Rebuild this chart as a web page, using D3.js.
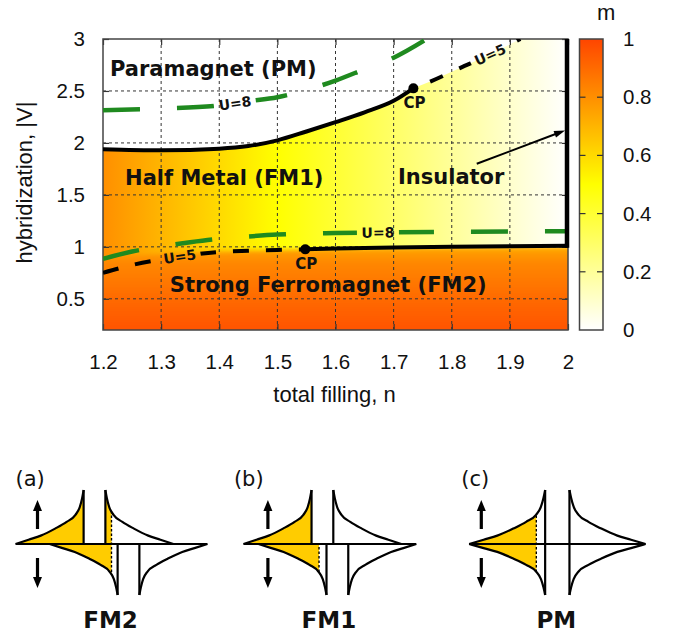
<!DOCTYPE html>
<html lang="en">
<head>
<meta charset="utf-8">
<title>Phase diagram m(n, |V|)</title>
<script src="https://d3js.org/d3.v7.min.js"></script>
<style>
  body { margin: 0; background: #fff; }
  text { font-family: "Liberation Sans", Arial, sans-serif; fill: #111; }
  text.bold { font-family: "DejaVu Sans", sans-serif; font-weight: bold; }
</style>
</head>
<body>
<svg id="chart" width="682" height="632"></svg>
<script>
// ticks
var xTicks = [1.2, 1.3, 1.4, 1.5, 1.6, 1.7, 1.8, 1.9, 2];
var yTicks = [0.5, 1, 1.5, 2, 2.5, 3];
var cbTicks = [0, 0.2, 0.4, 0.6, 0.8, 1];

// palette for m
var mStops = [0, 0.5, 1];
var mColors = ["#ffffff", "#ffff00", "#ff4500"];

// m across the half metal (FM1), read by filling
var fm1N = [1.2, 1.3, 1.4, 1.5, 1.6, 1.7, 1.8, 1.9, 2.0];
var fm1M = [0.8, 0.7, 0.6, 0.5, 0.4, 0.3, 0.2, 0.1, 0.0];

// m down the strong ferromagnet (FM2), read by |V|
var fm2GV = [1.01, 0.96, 0.85, 0.5, 0.2];
var fm2GM = [0.66, 0.76, 0.82, 0.9, 0.96];

// PM / FM1 boundary (solid) up to the upper CP
var pmN = [1.2, 1.3, 1.4, 1.45, 1.5, 1.55, 1.6, 1.65, 1.7, 1.734];
var pmV = [1.94, 1.93, 1.945, 1.97, 2.025, 2.11, 2.2, 2.295, 2.405, 2.525];
// U=5 continuation above the upper CP (dashed)
var u5uN = [1.734, 1.763, 1.814, 1.866, 1.918];
var u5uV = [2.525, 2.59, 2.72, 2.85, 3.0];
// FM1 / FM2 boundary (solid) from the lower CP
var fm2bN = [1.548, 1.6, 1.7, 1.8, 1.9, 2.0];
var fm2bV = [0.976, 0.985, 0.995, 1.0, 1.005, 1.01];
// U=5 below the lower CP (dashed)
var u5lN = [1.2, 1.25, 1.3, 1.35, 1.4, 1.45, 1.5, 1.548];
var u5lV = [0.75, 0.825, 0.88, 0.922, 0.95, 0.962, 0.97, 0.976];
// crossover FM1 -> FM2 left of the lower CP
var fm2LeftN = [1.2, 1.3, 1.4, 1.5, 1.548];
var fm2LeftV = [0.9, 0.935, 0.955, 0.97, 0.976];
// U=8 lines (green)
var u8uN = [1.2, 1.3, 1.4, 1.45, 1.5, 1.55, 1.6, 1.65, 1.7, 1.757];
var u8uV = [2.315, 2.33, 2.36, 2.40, 2.44, 2.51, 2.60, 2.71, 2.82, 3.0];
var u8lN = [1.2, 1.25, 1.3, 1.35, 1.4, 1.45, 1.5, 1.6, 1.7, 1.8, 1.9, 1.995];
var u8lV = [0.885, 0.955, 1.005, 1.045, 1.078, 1.10, 1.118, 1.133, 1.14, 1.145, 1.148, 1.15];
// critical points
var cpN = [1.734, 1.548];
var cpV = [2.525, 0.976];

// region labels
var regText = ["Paramagnet (PM)", "Half Metal (FM1)", "Insulator", "Strong Ferromagnet (FM2)"];
var regN = [1.212, 1.238, 1.7075, 1.315];
var regV = [2.644, 1.595, 1.605, 0.57];
var regFill = ["#000", "#000", "#000", "#fff"];

// U labels sit on their curves at these fillings
var uText = ["U=8", "U=8", "U=5", "U=5"];
var uAt = [1.427, 1.673, 1.332, 1.866];

// density of states sketches
var dosLetter = ["(a)", "(b)", "(c)"];
var dosName = ["FM2", "FM1", "PM"];
var dosSplit = [0.5, 0.22, 0];       // spin splitting, in band widths
var dosFermi = [0, -0.16, -0.276];   // Fermi level, from the mid gap
var dosGap = 0.32;
var dosT = [0, 0.19, 0.37, 0.58, 0.75, 0.88, 0.945, 0.978, 1];
var dosH = [0, 0.08, 0.155, 0.285, 0.41, 0.54, 0.69, 0.85, 1];

var W = 682, H = 632;
var svg = d3.select("#chart");
var defs = svg.append("defs");

var x = d3.scaleLinear().domain([1.2, 2]).range([103, 568]);
var y = d3.scaleLinear().domain([0.2, 3]).range([330, 39]);
var color = d3.scaleLinear().domain(mStops).range(mColors);
var cb = d3.scaleLinear().domain([0, 1]).range([330, 39]);

function pts(ns, vs) { return ns.map(function(n, i) { return [n, vs[i]]; }); }
var curve = d3.line().x(function(d) { return x(d[0]); }).y(function(d) { return y(d[1]); }).curve(d3.curveMonotoneX);
var poly = d3.line().x(function(d) { return x(d[0]); }).y(function(d) { return y(d[1]); });

function onCurve(ns, vs, n) {
  var i = Math.max(1, Math.min(ns.length - 1, d3.bisectLeft(ns, n)));
  var f = (n - ns[i - 1]) / (ns[i] - ns[i - 1]);
  var v = vs[i - 1] + f * (vs[i] - vs[i - 1]);
  var a = Math.atan2(y(vs[i]) - y(vs[i - 1]), x(ns[i]) - x(ns[i - 1])) * 180 / Math.PI;
  return [x(n), y(v), a];
}

function arrow(g, x1, y1, x2, y2, sw, len, hw) {
  var a = Math.atan2(y2 - y1, x2 - x1), c = Math.cos(a), s = Math.sin(a);
  g.append("line").attr("x1", x1).attr("y1", y1)
    .attr("x2", x2 - c * len * 0.6).attr("y2", y2 - s * len * 0.6)
    .attr("stroke", "#000").attr("stroke-width", sw);
  var bx = x2 - c * len, by = y2 - s * len;
  g.append("path")
    .attr("d", "M" + x2 + "," + y2 + "L" + (bx - s * hw) + "," + (by + c * hw) +
               "L" + (bx + s * hw) + "," + (by - c * hw) + "Z")
    .attr("fill", "#000");
}

// ---------- gradients, clips, filters ----------
var g1 = defs.append("linearGradient").attr("id", "gFM1").attr("gradientUnits", "userSpaceOnUse")
  .attr("x1", x(1.2)).attr("x2", x(2)).attr("y1", 0).attr("y2", 0);
fm1N.forEach(function(n, i) {
  g1.append("stop").attr("offset", (x(n) - x(1.2)) / (x(2) - x(1.2))).attr("stop-color", color(fm1M[i]));
});
var g2 = defs.append("linearGradient").attr("id", "gFM2").attr("gradientUnits", "userSpaceOnUse")
  .attr("x1", 0).attr("x2", 0).attr("y1", y(fm2GV[0])).attr("y2", y(0.2));
fm2GV.forEach(function(v, i) {
  g2.append("stop").attr("offset", (y(v) - y(fm2GV[0])) / (y(0.2) - y(fm2GV[0]))).attr("stop-color", color(fm2GM[i]));
});
var gcb = defs.append("linearGradient").attr("id", "gCB")
  .attr("x1", 0).attr("x2", 0).attr("y1", 1).attr("y2", 0);
d3.range(0, 1.0001, 0.05).forEach(function(m) {
  gcb.append("stop").attr("offset", m).attr("stop-color", color(m));
});

defs.append("clipPath").attr("id", "plotClip").append("rect")
  .attr("x", x(1.2)).attr("y", y(3)).attr("width", x(2) - x(1.2)).attr("height", y(0.2) - y(3));
defs.append("clipPath").attr("id", "fm2Clip").append("path")
  .attr("d", poly([[1.2, 0.2], [2, 0.2]].concat(pts(fm2bN, fm2bV).reverse(), [[1.548, 1.3], [1.2, 1.3]])) + "Z");
defs.append("filter").attr("id", "soft").attr("x", "-5%").attr("y", "-20%").attr("width", "110%").attr("height", "140%")
  .append("feGaussianBlur").attr("stdDeviation", 2.2);

// ---------- heat map regions ----------
svg.append("rect").attr("x", x(1.2)).attr("y", y(3)).attr("width", x(2) - x(1.2)).attr("height", y(0.2) - y(3)).attr("fill", "#fff");
var map = svg.append("g").attr("clip-path", "url(#plotClip)");
var fm1Poly = pts(pmN, pmV).concat(pts(u5uN, u5uV).slice(1), [[2.05, 3], [2.05, 0.1], [1.15, 0.1], [1.15, 1.94]]);
map.append("path").attr("d", poly(fm1Poly) + "Z").attr("fill", "url(#gFM1)");
var fm2Poly = [[1.15, 0.1], [2.05, 0.1], [2.05, 1.01]].concat(
  pts(fm2bN, fm2bV).reverse(), pts(fm2LeftN, fm2LeftV).reverse().slice(1), [[1.15, 0.88]]);
map.append("g").attr("clip-path", "url(#fm2Clip)")
  .append("path").attr("d", poly(fm2Poly) + "Z").attr("fill", "url(#gFM2)").attr("filter", "url(#soft)");

// ---------- grid, border, axes ----------
var grid = svg.append("g").attr("stroke", "#333").attr("stroke-width", 1).attr("stroke-dasharray", "3,3");
grid.selectAll(".gx").data(xTicks.filter(function(d) { return d > 1.2 && d < 2; })).enter().append("line")
  .attr("x1", x).attr("x2", x).attr("y1", y(0.2)).attr("y2", y(3));
grid.selectAll(".gy").data(yTicks.filter(function(d) { return d < 3; })).enter().append("line")
  .attr("x1", x(1.2)).attr("x2", x(2)).attr("y1", y).attr("y2", y);

function styleAxis(g, size) {
  g.attr("font-size", null).attr("font-family", null);
  g.select(".domain").remove();
  g.selectAll(".tick line").attr("stroke", "#333").attr("stroke-width", 1.2);
  g.selectAll(".tick text").style("font-size", size + "px").attr("fill", "#111");
}
svg.append("g").attr("transform", "translate(0," + y(0.2) + ")")
  .call(d3.axisBottom(x).tickValues(xTicks).tickFormat(d3.format("")).tickSize(-6).tickPadding(24))
  .call(styleAxis, 20.5);
svg.append("g").attr("transform", "translate(" + x(1.2) + ",0)")
  .call(d3.axisLeft(y).tickValues(yTicks).tickFormat(d3.format("")).tickSize(-6).tickPadding(18))
  .call(styleAxis, 20.5);
svg.append("g").attr("transform", "translate(0," + y(3) + ")")
  .call(d3.axisTop(x).tickValues(xTicks).tickFormat("").tickSize(-6)).call(styleAxis, 1);
svg.append("g").attr("transform", "translate(" + x(2) + ",0)")
  .call(d3.axisRight(y).tickValues(yTicks).tickFormat("").tickSize(-6)).call(styleAxis, 1);

svg.append("rect").attr("x", x(1.2)).attr("y", y(3)).attr("width", x(2) - x(1.2)).attr("height", y(0.2) - y(3))
  .attr("fill", "none").attr("stroke", "#444").attr("stroke-width", 1.5);

svg.append("text").attr("x", (x(1.2) + x(2)) / 2 - 1).attr("y", 402).attr("text-anchor", "middle")
  .style("font-size", "22px").text("total filling, n");
svg.append("text").attr("transform", "translate(32," + ((y(0.2) + y(3)) / 2 - 2) + ") rotate(-90)")
  .attr("text-anchor", "middle").style("font-size", "22px").text("hybridization, |V|");

// ---------- phase boundaries ----------
var uPos = [[u8uN, u8uV], [u8lN, u8lV], [u5lN, u5lV], [u5uN, u5uV]].map(function(c, i) {
  return onCurve(c[0], c[1], uAt[i]);
});
var mask = defs.append("mask").attr("id", "uMask").attr("maskUnits", "userSpaceOnUse")
  .attr("x", 0).attr("y", 0).attr("width", W).attr("height", H);
mask.append("rect").attr("width", W).attr("height", H).attr("fill", "#fff");
uPos.forEach(function(p) {
  mask.append("rect").attr("x", -21).attr("y", -9).attr("width", 42).attr("height", 18).attr("fill", "#000")
    .attr("transform", "translate(" + p[0] + "," + p[1] + ") rotate(" + p[2] + ")");
});

var lines = svg.append("g").attr("clip-path", "url(#plotClip)");
var dashed = lines.append("g").attr("mask", "url(#uMask)").attr("fill", "none");
dashed.append("path").attr("d", curve(pts(u8uN, u8uV))).attr("stroke", "#1f8a1f").attr("stroke-width", 4.5).attr("stroke-dasharray", "37,37");
dashed.append("path").attr("d", curve(pts(u8lN, u8lV))).attr("stroke", "#1f8a1f").attr("stroke-width", 4.5).attr("stroke-dasharray", "37,37");
dashed.append("path").attr("d", curve(pts(u5lN, u5lV))).attr("stroke", "#000").attr("stroke-width", 4).attr("stroke-dasharray", "16,17");
dashed.append("path").attr("d", curve(pts(u5uN, u5uV))).attr("stroke", "#000").attr("stroke-width", 4)
  .attr("stroke-dasharray", "14,18").attr("stroke-dashoffset", 14);

lines.append("path").attr("d", curve(pts(pmN, pmV))).attr("fill", "none").attr("stroke", "#000").attr("stroke-width", 4);
lines.append("path").attr("d", curve(pts(fm2bN, fm2bV))).attr("fill", "none").attr("stroke", "#000").attr("stroke-width", 4);
svg.append("line").attr("x1", x(2) - 1).attr("x2", x(2) - 1).attr("y1", y(3)).attr("y2", y(fm2bV[fm2bV.length - 1]) + 2)
  .attr("stroke", "#000").attr("stroke-width", 4.5);

svg.selectAll(".cp").data(cpN).enter().append("circle")
  .attr("cx", function(d) { return x(d); }).attr("cy", function(d, i) { return y(cpV[i]); })
  .attr("r", 5).attr("fill", "#000");
svg.selectAll(".cpl").data(cpN).enter().append("text").attr("class", "bold")
  .attr("x", function(d) { return x(d) + 1; }).attr("y", function(d, i) { return y(cpV[i]) + 20; })
  .attr("text-anchor", "middle").style("font-size", "15px").attr("fill", "#000").text("CP");

uPos.forEach(function(p, i) {
  svg.append("text").attr("class", "bold")
    .attr("transform", "translate(" + p[0] + "," + p[1] + ") rotate(" + p[2] + ")")
    .attr("text-anchor", "middle").attr("dy", "0.36em").style("font-size", "14px").attr("fill", "#000")
    .text(uText[i]);
});

regText.forEach(function(t, i) {
  svg.append("text").attr("class", "bold").attr("x", x(regN[i])).attr("y", y(regV[i]))
    .style("font-size", "21px").attr("fill", regFill[i]).text(t);
});
arrow(svg, x(1.843), y(1.80), x(1.995), y(2.12), 2, 11, 3.5);

// ---------- colour bar ----------
var cbx = 579.5, cbw = 23.5;
svg.append("rect").attr("x", cbx).attr("y", cb(1)).attr("width", cbw).attr("height", cb(0) - cb(1))
  .attr("fill", "url(#gCB)").attr("stroke", "#444").attr("stroke-width", 1.5);
var cbIn = cbTicks.filter(function(d) { return d > 0 && d < 1; });
svg.selectAll(".cbt1").data(cbIn).enter().append("line")
  .attr("x1", cbx).attr("x2", cbx + 6).attr("y1", cb).attr("y2", cb).attr("stroke", "#333").attr("stroke-width", 1.2);
svg.selectAll(".cbt2").data(cbIn).enter().append("line")
  .attr("x1", cbx + cbw - 6).attr("x2", cbx + cbw).attr("y1", cb).attr("y2", cb).attr("stroke", "#333").attr("stroke-width", 1.2);
svg.append("g").attr("transform", "translate(" + (cbx + cbw) + ",0)")
  .call(d3.axisRight(cb).tickValues(cbTicks).tickFormat(d3.format("")).tickSize(0).tickPadding(20))
  .call(styleAxis, 20.5);
svg.append("text").attr("x", cbx + cbw / 2 + 15).attr("y", 20).attr("text-anchor", "middle")
  .style("font-size", "22px").text("m");

// ---------- DOS sketches ----------
var dosY = 544;
var panelCx = [111.5, 329.9, 557.3];
var panelPx = [68, 68, 76];
var arrowOff = [74, 62, 76];
var spinH = [54, 51];

dosLetter.forEach(function(letter, i) {
  var ex = d3.scaleLinear().domain([0, 1]).range([panelCx[i], panelCx[i] + panelPx[i]]);
  var g = svg.append("g");
  var bands = [];
  [-1, 1].forEach(function(dir, k) {
    var shift = dir * dosSplit[i] / 2;
    var lo = shift - dosGap / 2, hi = shift + dosGap / 2;
    [[lo - 1, lo], [hi + 1, hi]].forEach(function(b) {
      var p = dosT.map(function(t, j) { return [b[0] + t * (b[1] - b[0]), dosH[j]]; });
      p.sort(function(a, c) { return a[0] - c[0]; });
      bands.push({ p: p, dir: dir, h: spinH[k], edge: b[1], outer: b[0] });
    });
  });
  function area(b) {
    return d3.area().x(function(d) { return ex(d[0]); }).y0(dosY)
      .y1(function(d) { return dosY + b.dir * d[1] * b.h; }).curve(d3.curveMonotoneX)(b.p);
  }
  function outline(b) {
    return d3.line().x(function(d) { return ex(d[0]); })
      .y(function(d) { return dosY + b.dir * d[1] * b.h; }).curve(d3.curveMonotoneX)(b.p);
  }
  defs.append("clipPath").attr("id", "occ" + i).append("rect")
    .attr("x", 0).attr("y", 440).attr("width", ex(dosFermi[i])).attr("height", 170);
  var bc = defs.append("clipPath").attr("id", "band" + i);
  bands.forEach(function(b) { bc.append("path").attr("d", area(b)); });

  bands.forEach(function(b) {
    g.append("path").attr("d", area(b)).attr("fill", "#ffcc00").attr("clip-path", "url(#occ" + i + ")");
  });
  var ends = bands.map(function(b) { return ex(b.outer); });
  g.append("line").attr("x1", d3.min(ends)).attr("x2", d3.max(ends)).attr("y1", dosY).attr("y2", dosY)
    .attr("stroke", "#000").attr("stroke-width", 2.2);
  bands.forEach(function(b) {
    g.append("path").attr("d", outline(b)).attr("fill", "none").attr("stroke", "#000").attr("stroke-width", 2.2);
    g.append("line").attr("x1", ex(b.edge)).attr("x2", ex(b.edge)).attr("y1", dosY).attr("y2", dosY + b.dir * b.h)
      .attr("stroke", "#000").attr("stroke-width", 2.2);
  });
  g.append("line").attr("x1", ex(dosFermi[i])).attr("x2", ex(dosFermi[i])).attr("y1", dosY - 60).attr("y2", dosY + 60)
    .attr("stroke", "#000").attr("stroke-width", 1.4).attr("stroke-dasharray", "2.5,2")
    .attr("clip-path", "url(#band" + i + ")");

  var ax = panelCx[i] - arrowOff[i];
  arrow(g, ax, dosY - 15, ax, dosY - 44, 3.2, 11, 4.5);
  arrow(g, ax, dosY + 14, ax, dosY + 44, 3.2, 11, 4.5);

  g.append("text").attr("x", panelCx[i] - 96).attr("y", 486)
    .style("font-family", "'DejaVu Sans', sans-serif").style("font-size", "21px").text(letter);
  g.append("text").attr("class", "bold").attr("x", panelCx[i] - 1).attr("y", 628).attr("text-anchor", "middle")
    .style("font-size", "23px").attr("fill", "#111").text(dosName[i]);
});
</script>
</body>
</html>
